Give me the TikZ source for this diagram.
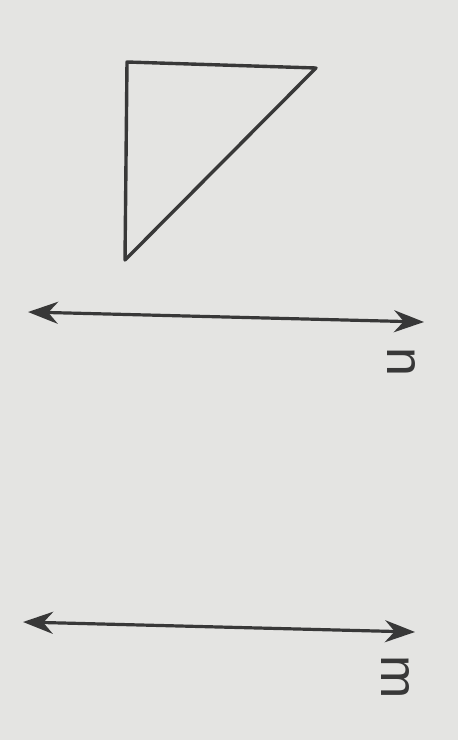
\documentclass[tikz,border=0pt]{standalone}
\usepackage{fontspec}
\setmainfont{Liberation Sans}
\usetikzlibrary{arrows.meta}
\definecolor{paper}{HTML}{E4E4E2}
\definecolor{ink}{HTML}{383838}
\tikzset{
  shape line/.style={draw=ink, line width=3.4pt, line join=round, line cap=round},
  dbl arrow/.style={draw=ink, line width=3.2pt, {Stealth[length=30pt,width=22pt]}-{Stealth[length=30pt,width=22pt]}},
  lbl/.style={text=ink, font=\fontsize{52}{52}\selectfont, rotate=-90, inner sep=0pt}
}
\begin{document}
\begin{tikzpicture}[x=1pt,y=-1pt]
\fill[paper] (0,0) rectangle (458,740);
\useasboundingbox (0,0) rectangle (458,740);
% triangle
\coordinate (A) at (127,62);
\coordinate (B) at (316,68);
\coordinate (C) at (125,260);
\draw[shape line] (A) -- (B) -- (C) -- cycle;
% line n
\coordinate (n1) at (28,312);
\coordinate (n2) at (424,322);
\draw[dbl arrow] (n1) -- (n2);
\node[lbl] (nl) at (401,362) {n};
% line m
\coordinate (m1) at (23,622);
\coordinate (m2) at (415,632);
\draw[dbl arrow] (m1) -- (m2);
\node[lbl] (ml) at (395,677) {m};
\end{tikzpicture}
\end{document}
